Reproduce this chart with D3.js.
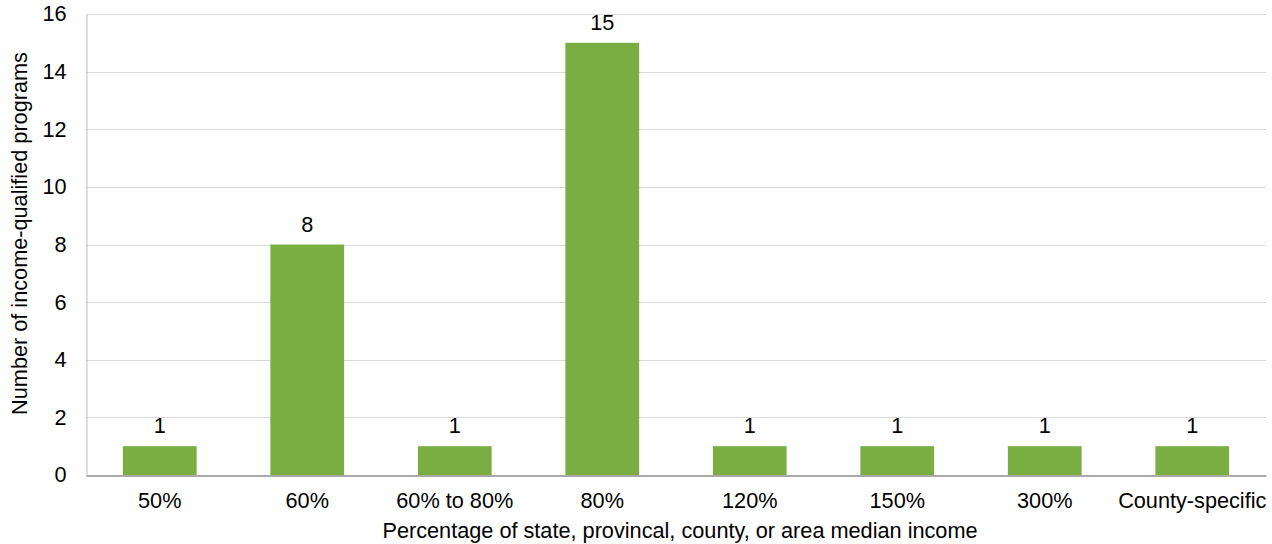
<!DOCTYPE html>
<html><head><meta charset="utf-8">
<script src="https://cdn.jsdelivr.net/npm/d3@7"></script>
<style>body{margin:0;background:#fff}svg{display:block}text{font-family:"Liberation Sans",Arial,sans-serif;fill:#000}</style>
</head><body><svg id="c" width="1272" height="544"></svg>
<script>
const categories = ["50%","60%","60% to 80%","80%","120%","150%","300%","County-specific"];
const values = [1,8,1,15,1,1,1,1];
const yTicks = [0,2,4,6,8,10,12,14,16];

const FS = 21.7;
const svg = d3.select("#c");
const m = {l:86, r:1266, t:14, b:475};
const x = d3.scaleBand().domain(categories).range([m.l, m.r]).paddingInner(0.5).paddingOuter(0.25);
const y = d3.scaleLinear().domain([0,16]).range([m.b, m.t]);

// gridlines
svg.append("g").selectAll("line").data(yTicks.filter(d=>d>0)).join("line")
  .attr("x1", m.l).attr("x2", m.r).attr("y1", d=>Math.round(y(d))+0.5).attr("y2", d=>Math.round(y(d))+0.5)
  .attr("stroke", "#d9d9d9").attr("stroke-width", 1);

// bars
svg.append("g").selectAll("rect").data(values).join("rect")
  .attr("x", (d,i)=>x(categories[i])).attr("width", x.bandwidth())
  .attr("y", d=>y(d)).attr("height", d=>y(0)-y(d)).attr("fill", "#7aad42");

// left axis
const ya = d3.axisLeft(y).tickValues(yTicks).tickSize(0).tickPadding(20);
const gy = svg.append("g").attr("transform", `translate(${m.l+0.5},0)`).call(ya);
gy.select(".domain").attr("stroke", "#bfbfbf");
gy.selectAll("text").attr("font-size", FS).attr("font-family", "Liberation Sans, Arial, sans-serif").attr("fill","#000");

// bottom axis
const xa = d3.axisBottom(x).tickSize(0).tickPadding(17);
const gx = svg.append("g").attr("transform", `translate(0,${m.b+0.5})`).call(xa);
gx.select(".domain").attr("stroke", "#8c8c8c").attr("stroke-width", 1.5);
gx.selectAll("text").attr("font-size", FS).attr("font-family", "Liberation Sans, Arial, sans-serif").attr("fill","#000");

// value labels
svg.append("g").selectAll("text").data(values).join("text")
  .attr("x", (d,i)=>x(categories[i]) + x.bandwidth()/2).attr("y", d=>y(d)-13)
  .attr("text-anchor","middle").attr("font-size", FS).text(d=>d);

// axis titles
svg.append("text").attr("x", (m.l+m.r)/2 + 4).attr("y", 538).attr("text-anchor","middle").attr("font-size",FS)
  .text("Percentage of state, provincal, county, or area median income");
svg.append("text").attr("transform", `translate(27,233.5) rotate(-90)`).attr("text-anchor","middle").attr("font-size",FS)
  .text("Number of income-qualified programs");
</script></body></html>
